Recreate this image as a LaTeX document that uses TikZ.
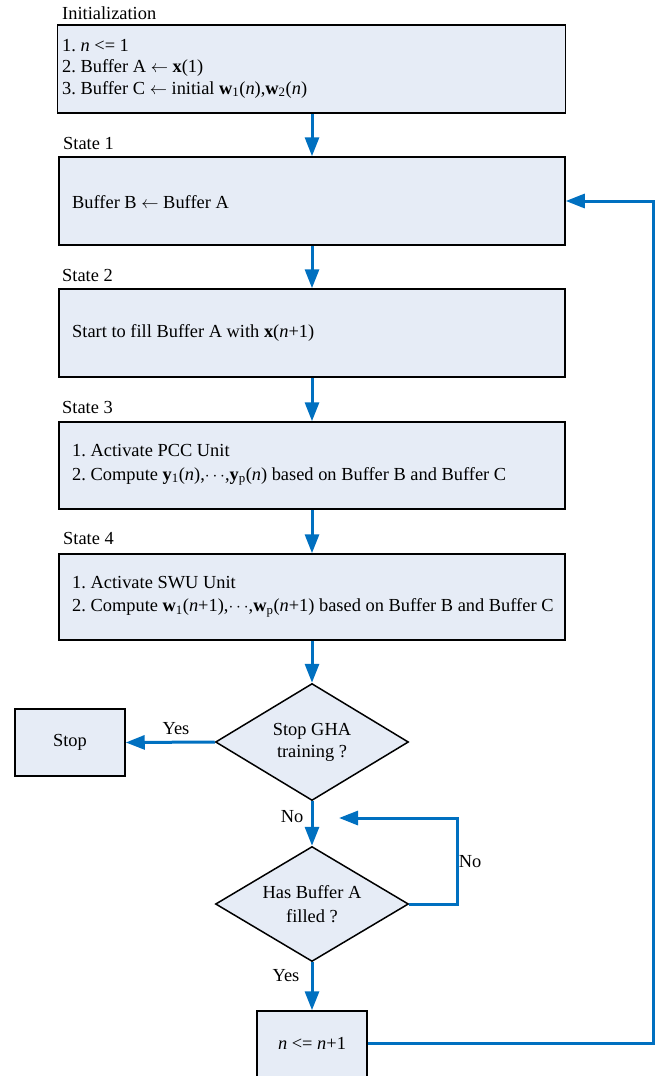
\documentclass[tikz,border=0pt]{standalone}
\usepackage{fontspec}
\setmainfont{Liberation Serif}
\usetikzlibrary{shapes.geometric,arrows.meta}
\definecolor{boxfill}{RGB}{230,236,246}
\definecolor{flowblue}{RGB}{0,112,192}
\newcommand{\lar}{ $\leftarrow$ }
\frenchspacing
\begin{document}
\begin{tikzpicture}[x=1pt,y=-1pt,
  font=\fontsize{18.4}{23.5}\selectfont,
  sbox/.style={draw=black,line width=1.5pt,fill=boxfill,minimum height=88pt,
    minimum width=506pt,inner sep=0pt},
  btext/.style={anchor=west,align=left,inner sep=0pt},
  smallbox/.style={draw=black,line width=1.5pt,fill=boxfill,inner sep=0pt},
  dia/.style={diamond,draw=black,line width=1.5pt,fill=boxfill,
    minimum width=193pt,minimum height=117pt,inner sep=0pt,shape aspect=1.65,
    align=center,font=\fontsize{18.4}{22}\selectfont},
  title/.style={anchor=west,inner sep=0pt},
  lbl/.style={inner sep=0pt},
  flow/.style={draw=flowblue,line width=3pt,-{Triangle[length=19pt,width=14pt]}}
]
\useasboundingbox (0,0) rectangle (670,1076);

% titles
\node[title] (tinit) at (62,13) {Initialization};
\node[title] (t1) at (63,143) {State 1};
\node[title] (t2) at (62,275) {State 2};
\node[title] (t3) at (62,407) {State 3};
\node[title] (t4) at (63,538) {State 4};

% boxes
\node[sbox,minimum width=508pt] (init) at (311.5,69) {};
\node[btext,font=\fontsize{18.4}{21.5}\selectfont] (initxt) at (62,68.5) {1. \textit{n} <= 1\\
2. Buffer A\lar\textbf{x}(1)\\
3. Buffer C\lar initial \textbf{w}\textsubscript{1}(\textit{n}),\textbf{w}\textsubscript{2}(\textit{n})};

\node[sbox] (s1) at (312,201) {};
\node[btext] (s1txt) at (72,202) {Buffer B\lar Buffer A};

\node[sbox] (s2) at (312,333) {};
\node[btext] (s2txt) at (72,333) {Start to fill Buffer A with \textbf{x}(\textit{n}+1)};

\node[sbox,minimum height=87pt] (s3) at (312,465.5) {};
\node[btext] (s3txt) at (72,465) {1. Activate PCC Unit\\
2. Compute \textbf{y}\textsubscript{1}(\textit{n}),$\cdots$,\textbf{y}\textsubscript{p}(\textit{n}) based on Buffer B and Buffer C};

\node[sbox,minimum height=86pt] (s4) at (312,597) {};
\node[btext] (s4txt) at (72,596.5) {1. Activate SWU Unit\\
2. Compute \textbf{w}\textsubscript{1}(\textit{n}+1),$\cdots$,\textbf{w}\textsubscript{p}(\textit{n}+1) based on Buffer B and Buffer C};

% decisions
\node[dia] (d1) at (312,742) {Stop GHA\\training ?};
\node[dia,minimum height=115pt,font=\fontsize{18.4}{24}\selectfont] (d2) at (312,904) {Has Buffer A\\filled ?};

% stop box
\node[smallbox,minimum width=110pt,minimum height=67pt] (stop) at (70,742.5) {Stop};

% n box (cut off at the bottom)
\node[smallbox,minimum width=110pt,minimum height=76pt] (nb) at (312,1049) {};
\node[lbl] (nt) at (312,1043) {\textit{n} <= \textit{n}+1};

% connectors
\draw[flow] (init.south -| s1.north) -- (s1.north);
\draw[flow] (s1.south) -- (s2.north);
\draw[flow] (s2.south) -- (s3.north);
\draw[flow] (s3.south) -- (s4.north);
\draw[flow] (s4.south) -- (d1.north);
\draw[flow] (d1.west) -- (stop.east);
\draw[flow] (d1.south) -- (d2.north);
\draw[flow] (d2.south) -- (nb.north);
\coordinate (lt) at (339,818);
\draw[flow] (d2.east) -- ++(48,0) |- (lt);
\draw[flow] (nb.east |- nt.center) -- ++(286,0) |- (s1.east);

% labels
\node[lbl] (yes1) at (176,729) {Yes};
\node[lbl] (no1) at (292,817) {No};
\node[lbl] (no2) at (470,862) {No};
\node[lbl] (yes2) at (286,976) {Yes};
\end{tikzpicture}
\end{document}
